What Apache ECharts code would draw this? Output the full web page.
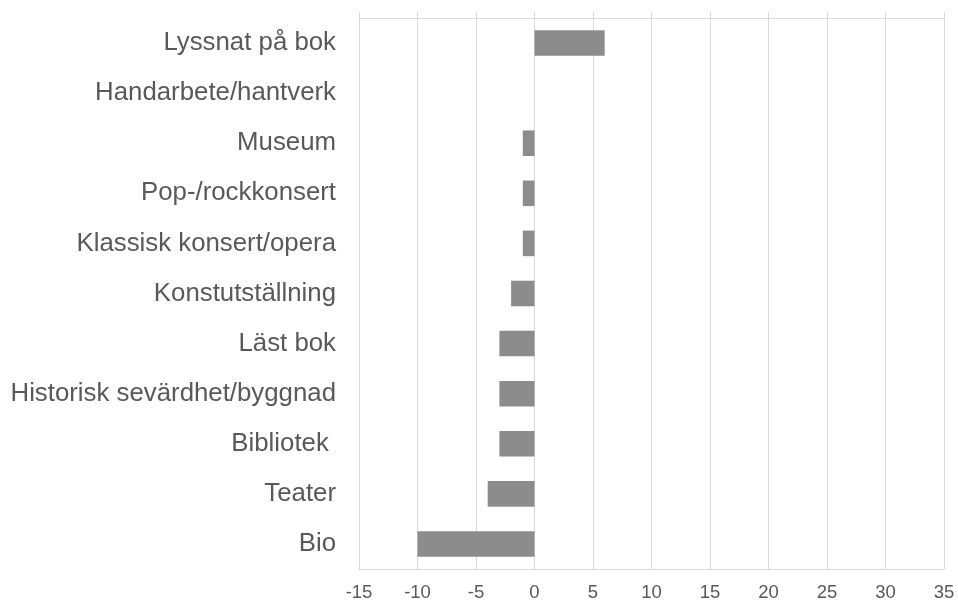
<!DOCTYPE html>
<html>
<head>
<meta charset="utf-8">
<script src="https://cdn.jsdelivr.net/npm/echarts@6/dist/echarts.min.js"></script>
<style>
  html, body { margin: 0; padding: 0; background: #fff; }
  #chart { width: 958px; height: 602px; }
</style>
</head>
<body>
<div id="chart"></div>
<script>
// categories from bottom to top
const categories = [
  'Bio', 'Teater', 'Bibliotek ', 'Historisk sevärdhet/byggnad', 'Läst bok',
  'Konstutställning', 'Klassisk konsert/opera', 'Pop-/rockkonsert', 'Museum',
  'Handarbete/hantverk', 'Lyssnat på bok'
]
const values = [-10, -4, -3, -3, -3, -2, -1, -1, -1, 0, 6]

const gridColor = '#d9d9d9'
const textColor = '#595959'
const font = 'Liberation Sans, Arial, sans-serif'

let myChart = echarts.init(document.getElementById('chart'))
myChart.setOption({
  animation: false,
  grid: { left: 359, right: 14, top: 18, bottom: 32 },
  xAxis: [
    {
      type: 'value', min: -15, max: 35, interval: 5,
      axisLine: { show: true, lineStyle: { color: gridColor, width: 1 } },
      axisTick: { show: false },
      splitLine: { lineStyle: { color: gridColor, width: 1 } },
      axisLabel: { color: textColor, fontSize: 18.5, margin: 14, fontFamily: font }
    },
    {
      type: 'value', min: -15, max: 35, interval: 5, position: 'top',
      axisLine: { show: true, lineStyle: { color: gridColor, width: 1 } },
      axisTick: { show: true, length: 6, lineStyle: { color: gridColor } },
      splitLine: { show: false },
      axisLabel: { show: false }
    }
  ],
  yAxis: {
    type: 'category', data: categories,
    axisLine: { show: false },
    axisTick: { show: false },
    axisLabel: { color: textColor, fontSize: 25.8, margin: 23, fontFamily: font }
  },
  series: [{
    type: 'bar', data: values,
    barCategoryGap: '49%',
    itemStyle: { color: '#8c8c8c' }
  }]
})
</script>
</body>
</html>
